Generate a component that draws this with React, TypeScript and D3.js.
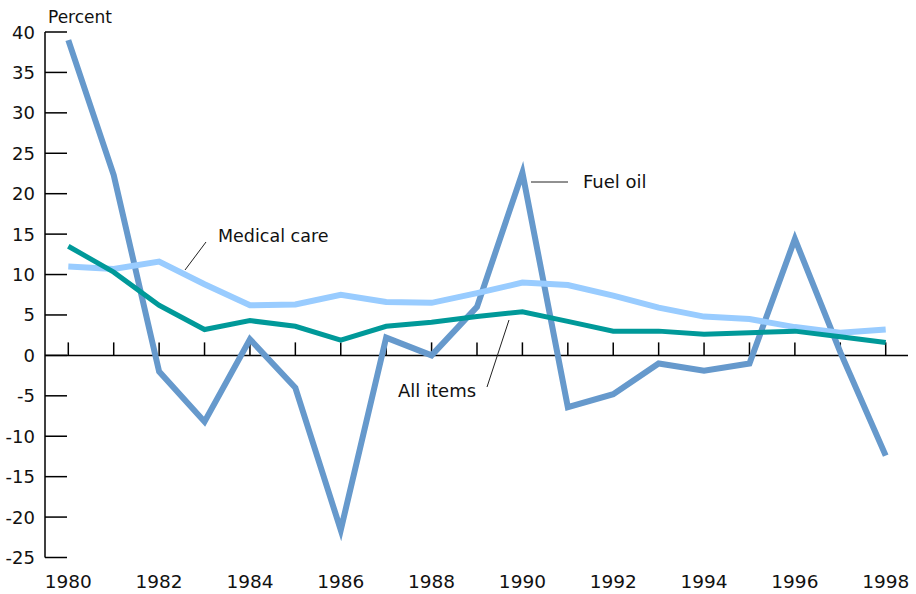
import React from "react";
import * as d3 from "d3";

const years = [1980,1981,1982,1983,1984,1985,1986,1987,1988,1989,1990,1991,1992,1993,1994,1995,1996,1997,1998];
const fuelOil = [39,22.3,-2,-8.2,2,-4,-21.6,2.2,0,6,22.6,-6.4,-4.8,-1,-1.9,-1,14.4,0.4,-12.4];
const medicalCare = [11,10.7,11.6,8.8,6.2,6.3,7.5,6.6,6.5,7.7,9.0,8.7,7.4,5.9,4.8,4.5,3.5,2.8,3.2];
const allItems = [13.5,10.3,6.2,3.2,4.3,3.6,1.9,3.6,4.1,4.8,5.4,4.2,3.0,3.0,2.6,2.8,3.0,2.3,1.6];
const yTicks = [40,35,30,25,20,15,10,5,0,-5,-10,-15,-20,-25];
const xLabels = [1980,1982,1984,1986,1988,1990,1992,1994,1996,1998];

const W = 916, H = 594;
const FONT = "'DejaVu Sans', sans-serif";

export default function App() {
  const x = d3.scaleLinear().domain([1980, 1998]).range([68.3, 885.7]);
  const y = d3.scaleLinear().domain([-25, 40]).range([557.5, 32]);
  const line = d3.line<number>().x((_, i) => x(years[i])).y((d) => y(d));
  const axisX = 45;
  return (
    <svg width={W} height={H} style={{ position: "absolute", left: 0, top: 0 }} fontFamily={FONT}>
      <rect width={W} height={H} fill="#fff" />
      {/* y axis */}
      <line x1={axisX} x2={axisX} y1={y(40)} y2={y(-25)} stroke="#000" strokeWidth={1.5} />
      {yTicks.map((t) => (
        <g key={t}>
          <line x1={axisX} x2={67} y1={y(t)} y2={y(t)} stroke="#000" strokeWidth={1.5} />
          <text x={35} y={y(t) + 6.5} textAnchor="end" fontSize={18} fill="#111">{t}</text>
        </g>
      ))}
      <text x={48} y={23} fontSize={17} fill="#111">Percent</text>
      {/* x axis at zero */}
      <line x1={axisX} x2={908} y1={y(0)} y2={y(0)} stroke="#000" strokeWidth={1.5} />
      {years.map((yr) => (
        <line key={yr} x1={x(yr)} x2={x(yr)} y1={y(0)} y2={y(0) - 13} stroke="#000" strokeWidth={1.5} />
      ))}
      {xLabels.map((yr) => (
        <text key={yr} x={x(yr)} y={588} textAnchor="middle" fontSize={18.5} fill="#111">{yr}</text>
      ))}
      {/* series */}
      <path d={line(fuelOil) || ""} fill="none" stroke="#6699cc" strokeWidth={6} strokeLinejoin="miter" />
      <path d={line(medicalCare) || ""} fill="none" stroke="#99ccff" strokeWidth={6} strokeLinejoin="miter" />
      <path d={line(allItems) || ""} fill="none" stroke="#009999" strokeWidth={5} strokeLinejoin="miter" />
      {/* annotations */}
      <line x1={206} y1={242} x2={185} y2={270} stroke="#222" strokeWidth={1} />
      <text x={218} y={242} fontSize={17.5} fill="#111">Medical care</text>
      <line x1={509} y1={320} x2={487} y2={387} stroke="#222" strokeWidth={1} />
      <text x={398} y={397} fontSize={18} fill="#111">All items</text>
      <line x1={531} y1={182} x2={568} y2={182} stroke="#222" strokeWidth={1} />
      <text x={583} y={188} fontSize={18} fill="#111">Fuel oil</text>
    </svg>
  );
}
